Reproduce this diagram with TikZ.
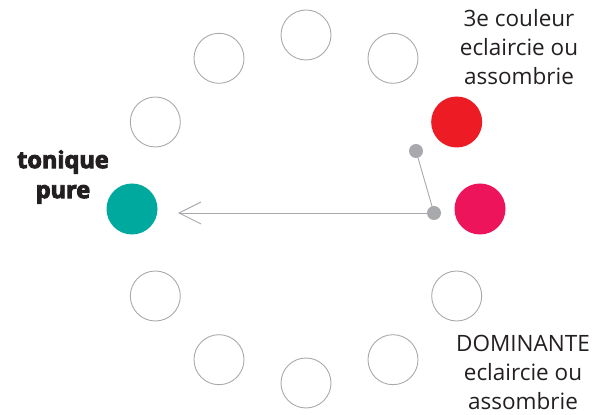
\documentclass[tikz,border=0pt]{standalone}
\usepackage{fontspec}
\setmainfont{Open Sans}
\newfontfamily\heavyfont{Open Sans}[BoldFeatures={FakeBold=4}]
\usetikzlibrary{arrows.meta,positioning,calc}
\definecolor{ringgrey}{HTML}{A7A9AC}
\definecolor{domin}{HTML}{ED145B}
\definecolor{third}{HTML}{ED1C24}
\definecolor{tonic}{HTML}{00A99D}
\definecolor{txt}{HTML}{231F20}
\tikzset{
  slot/.style={circle,draw=ringgrey,line width=0.9pt,minimum size=50pt,inner sep=0pt},
  full/.style={circle,minimum size=51pt,inner sep=0pt},
  pin/.style={circle,fill=ringgrey,minimum size=14pt,inner sep=0pt},
  lbl/.style={align=center,font=\fontsize{22.5}{29}\selectfont,text=txt},
  arr/.style={-{Straight Barb[length=22pt,width=22pt]},ringgrey,line width=0.9pt},
}
\begin{document}
\begin{tikzpicture}[x=1pt,y=1pt]
  \useasboundingbox (0,0) rectangle (595,415);
  \coordinate (ctr) at (306,206);
  % empty places on the wheel
  \foreach \a in {60,90,120,150,210,240,270,300,330}{
    \node[slot] (c\a) at ($(ctr)+(\a:174)$) {};
  }
  \node[full,fill=domin] (c0) at ($(ctr)+(0:174)$) {};
  \node[full,fill=third] (c30) at ($(ctr)+(30:174)$) {};
  \node[full,fill=tonic] (c180) at ($(ctr)+(180:174)$) {};

  \node[pin] (low) at (434,202) {};
  \node[pin] (up) at (416,264) {};
  \coordinate (tip) at (178,202);
  \draw[ringgrey,line width=0.9pt] (low.center) -- (up.center);
  \draw[arr] (low.center) -- (tip);

  \node[lbl] (third) at (519,368) {3e couleur\\eclaircie ou\\assombrie};
  \node[lbl] (dom) at (523,43) {DOMINANTE\\eclaircie ou\\assombrie};
  \node[lbl,font=\fontsize{23.5}{30}\selectfont\heavyfont\bfseries] (ton) at (63,238) {tonique\\pure};
\end{tikzpicture}
\end{document}
